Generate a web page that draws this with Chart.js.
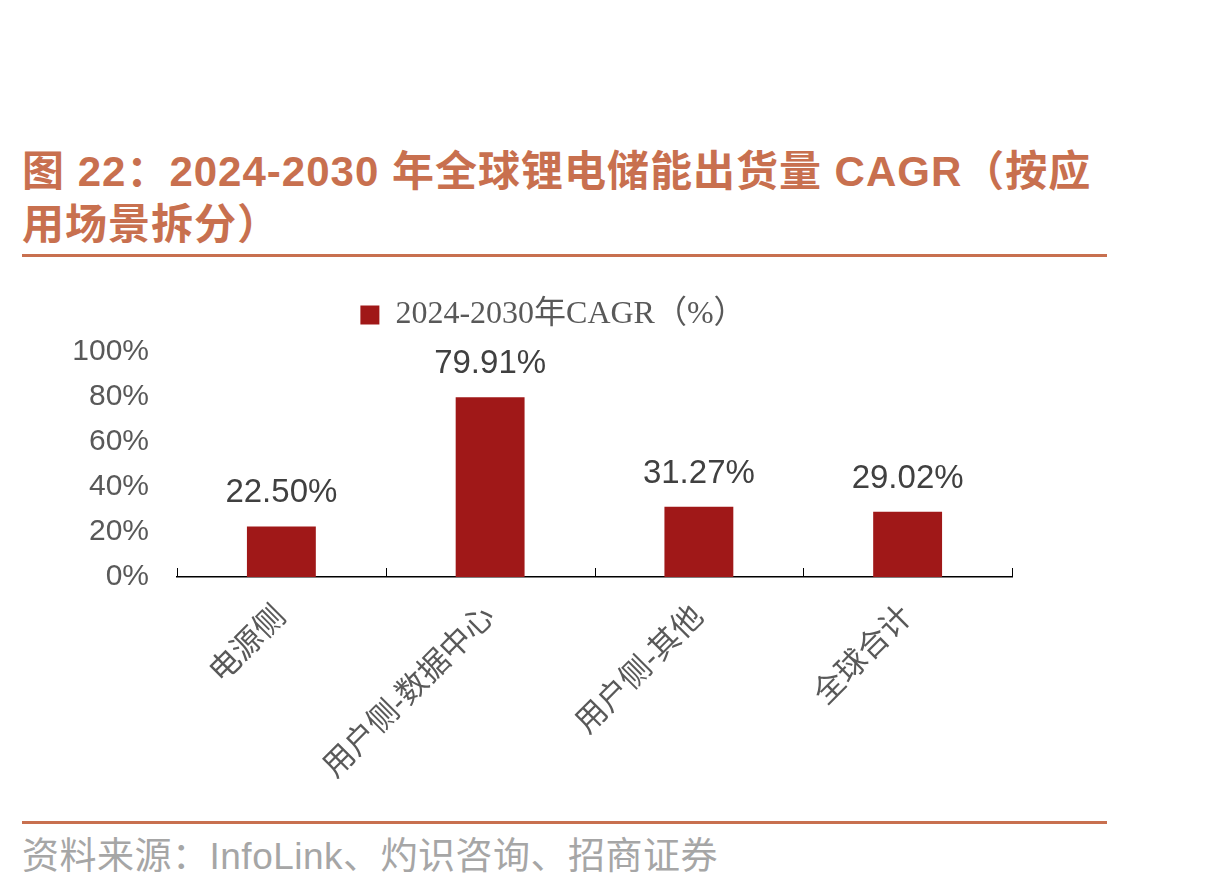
<!DOCTYPE html>
<html>
<head>
<meta charset="utf-8">
<script src="https://cdn.jsdelivr.net/npm/chart.js@4.4.1/dist/chart.umd.min.js"></script>
<style>
    body { margin: 0; width: 1216px; height: 882px; background: #fff; position: relative; overflow: hidden; }
    .title { position: absolute; left: 22px; top: 145px; font: bold 42px "Liberation Sans", "Noto Sans CJK SC", sans-serif; letter-spacing: 1px; line-height: 53px; color: #c8704f; white-space: nowrap; }
    .rule { position: absolute; left: 22px; width: 1085px; height: 3px; background: #c8704f; }
    .source { position: absolute; left: 22px; top: 826px; font: 37px "Liberation Sans", "Noto Sans CJK SC", sans-serif; letter-spacing: 0.5px; color: #a6a6a6; white-space: nowrap; }
    #wrap { position: absolute; left: 0; top: 280px; width: 1216px; height: 520px; }
</style>
</head>
<body>
<div class="title">图 22：2024-2030 年全球锂电储能出货量 CAGR（按应<br>用场景拆分）</div>
<div class="rule" style="top:254px"></div>
<div id="wrap"><canvas id="cagrChart"></canvas></div>
<div class="rule" style="top:821px"></div>
<div class="source">资料来源：InfoLink、灼识咨询、招商证券</div>

<script>
//..data
const scenarios = ['电源侧', '用户侧-数据中心', '用户侧-其他', '全球合计'];
const cagrValues = [22.50, 79.91, 31.27, 29.02];
const seriesName = '2024-2030年CAGR（%）';
const yTicks = [0, 20, 40, 60, 80, 100];

const barColor = '#a01818';

//..value labels over each bar
const valueLabels = {
    id: 'valueLabels',
    afterDatasetsDraw(chart) {
        const ctx = chart.ctx;
        const meta = chart.getDatasetMeta(0);
        ctx.save();
        ctx.font = '33px "Liberation Sans", Arial, sans-serif';
        ctx.fillStyle = '#404040';
        ctx.textAlign = 'center';
        ctx.textBaseline = 'alphabetic';
        meta.data.forEach((bar, i) => {
            ctx.fillText(cagrValues[i].toFixed(2) + '%', bar.x, bar.y - 24);
        });
        ctx.restore();
    }
};

//..small tick marks pointing up between categories
const upTicks = {
    id: 'upTicks',
    afterDraw(chart) {
        const x = chart.scales.x;
        const ctx = chart.ctx;
        const bottom = chart.chartArea.bottom;
        ctx.save();
        ctx.strokeStyle = '#000';
        ctx.lineWidth = 1;
        for (let i = 0; i <= scenarios.length; i++) {
            const px = Math.round(x.getPixelForValue(i - 0.5)) + 0.5;
            ctx.beginPath();
            ctx.moveTo(px, bottom);
            ctx.lineTo(px, bottom - 9);
            ctx.stroke();
        }
        ctx.restore();
    }
};

//..legend sits a bit right of and above its default box
const legendNudge = {
    id: 'legendNudge',
    afterLayout(chart) {
        const lg = chart.legend;
        lg.left += 17; lg.right += 17;
        lg.top -= 11; lg.bottom -= 11;
    }
};

new Chart(document.getElementById('cagrChart'), {
    type: 'bar',
    data: {
        labels: scenarios,
        datasets: [{
            label: seriesName,
            data: cagrValues,
            backgroundColor: barColor,
            barPercentage: 0.66,
            categoryPercentage: 0.5
        }]
    },
    options: {
        responsive: true,
        maintainAspectRatio: false,
        animation: false,
        layout: {
            padding: { left: 60, right: 204, top: 18, bottom: 0 }
        },
        plugins: {
            tooltip: { enabled: false },
            legend: {
                position: 'top',
                labels: {
                    boxWidth: 19,
                    boxHeight: 19,
                    padding: 12,
                    color: '#595959',
                    font: { family: '"Liberation Serif", "Noto Sans CJK SC", serif', size: 32 }
                }
            }
        },
        scales: {
            x: {
                grid: { display: false, drawTicks: false },
                border: { display: true, color: '#000', width: 1.5 },
                ticks: {
                    minRotation: 45,
                    maxRotation: 45,
                    padding: 22,
                    color: '#595959',
                    font: { family: '"Liberation Sans", "Noto Sans CJK SC", sans-serif', size: 31 }
                },
                afterFit(scale) { scale.height = 223; }
            },
            y: {
                min: 0,
                max: 100,
                afterBuildTicks(scale) { scale.ticks = yTicks.map(v => ({ value: v })); },
                grid: { display: false, drawTicks: false },
                border: { display: false },
                ticks: {
                    padding: 28,
                    color: '#595959',
                    font: { family: '"Liberation Sans", Arial, sans-serif', size: 30 },
                    callback: v => v + '%'
                },
                afterFit(scale) { scale.width = 117; }
            }
        }
    },
    plugins: [valueLabels, upTicks, legendNudge]
});
</script>
</body>
</html>
